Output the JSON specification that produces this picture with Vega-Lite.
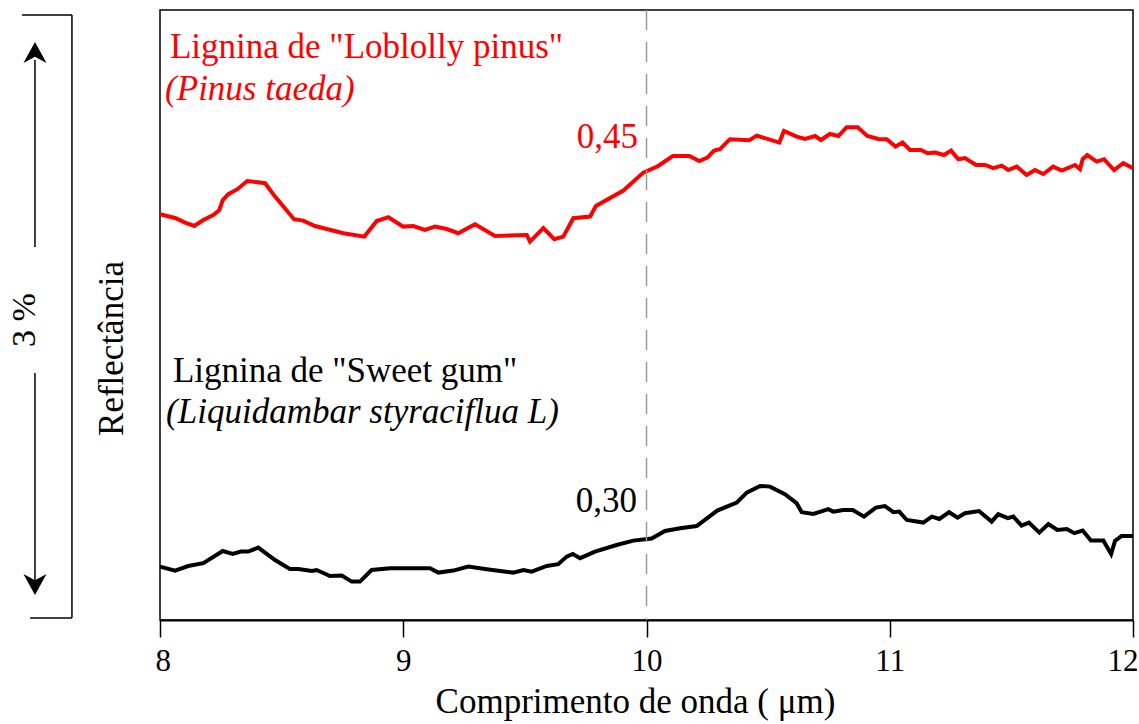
{
  "$schema": "https://vega.github.io/schema/vega-lite/v6.json",
  "width": 973,
  "height": 610,
  "autosize": {"type": "none"},
  "padding": {"left": 160, "top": 10, "right": 6, "bottom": 104},
  "background": "white",
  "config": {
    "view": {"stroke": "black", "strokeWidth": 1.5},
    "font": "Liberation Serif",
    "text": {"font": "Liberation Serif"},
    "axis": {
      "labelFont": "Liberation Serif",
      "titleFont": "Liberation Serif",
      "labelColor": "black",
      "titleColor": "black",
      "titleFontWeight": "normal",
      "grid": false
    }
  },
  "datasets": {
    "curves": [
      {"s": "Loblolly", "x": 8.000, "y": 2.029},
      {"s": "Loblolly", "x": 8.062, "y": 2.010},
      {"s": "Loblolly", "x": 8.103, "y": 1.987},
      {"s": "Loblolly", "x": 8.141, "y": 1.970},
      {"s": "Loblolly", "x": 8.178, "y": 2.000},
      {"s": "Loblolly", "x": 8.219, "y": 2.025},
      {"s": "Loblolly", "x": 8.244, "y": 2.050},
      {"s": "Loblolly", "x": 8.258, "y": 2.100},
      {"s": "Loblolly", "x": 8.281, "y": 2.129},
      {"s": "Loblolly", "x": 8.318, "y": 2.154},
      {"s": "Loblolly", "x": 8.359, "y": 2.195},
      {"s": "Loblolly", "x": 8.432, "y": 2.184},
      {"s": "Loblolly", "x": 8.473, "y": 2.117},
      {"s": "Loblolly", "x": 8.551, "y": 2.004},
      {"s": "Loblolly", "x": 8.589, "y": 1.997},
      {"s": "Loblolly", "x": 8.637, "y": 1.970},
      {"s": "Loblolly", "x": 8.754, "y": 1.934},
      {"s": "Loblolly", "x": 8.840, "y": 1.917},
      {"s": "Loblolly", "x": 8.891, "y": 1.995},
      {"s": "Loblolly", "x": 8.939, "y": 2.014},
      {"s": "Loblolly", "x": 9.000, "y": 1.967},
      {"s": "Loblolly", "x": 9.041, "y": 1.970},
      {"s": "Loblolly", "x": 9.089, "y": 1.950},
      {"s": "Loblolly", "x": 9.131, "y": 1.967},
      {"s": "Loblolly", "x": 9.179, "y": 1.955},
      {"s": "Loblolly", "x": 9.226, "y": 1.934},
      {"s": "Loblolly", "x": 9.295, "y": 1.979},
      {"s": "Loblolly", "x": 9.377, "y": 1.920},
      {"s": "Loblolly", "x": 9.508, "y": 1.925},
      {"s": "Loblolly", "x": 9.521, "y": 1.892},
      {"s": "Loblolly", "x": 9.576, "y": 1.959},
      {"s": "Loblolly", "x": 9.621, "y": 1.904},
      {"s": "Loblolly", "x": 9.658, "y": 1.917},
      {"s": "Loblolly", "x": 9.699, "y": 2.009},
      {"s": "Loblolly", "x": 9.768, "y": 2.017},
      {"s": "Loblolly", "x": 9.792, "y": 2.070},
      {"s": "Loblolly", "x": 9.905, "y": 2.147},
      {"s": "Loblolly", "x": 9.987, "y": 2.237},
      {"s": "Loblolly", "x": 10.048, "y": 2.270},
      {"s": "Loblolly", "x": 10.108, "y": 2.320},
      {"s": "Loblolly", "x": 10.176, "y": 2.320},
      {"s": "Loblolly", "x": 10.217, "y": 2.295},
      {"s": "Loblolly", "x": 10.250, "y": 2.312},
      {"s": "Loblolly", "x": 10.278, "y": 2.347},
      {"s": "Loblolly", "x": 10.302, "y": 2.354},
      {"s": "Loblolly", "x": 10.343, "y": 2.404},
      {"s": "Loblolly", "x": 10.423, "y": 2.399},
      {"s": "Loblolly", "x": 10.453, "y": 2.422},
      {"s": "Loblolly", "x": 10.546, "y": 2.387},
      {"s": "Loblolly", "x": 10.565, "y": 2.445},
      {"s": "Loblolly", "x": 10.617, "y": 2.417},
      {"s": "Loblolly", "x": 10.652, "y": 2.405},
      {"s": "Loblolly", "x": 10.693, "y": 2.420},
      {"s": "Loblolly", "x": 10.717, "y": 2.400},
      {"s": "Loblolly", "x": 10.754, "y": 2.430},
      {"s": "Loblolly", "x": 10.789, "y": 2.420},
      {"s": "Loblolly", "x": 10.823, "y": 2.464},
      {"s": "Loblolly", "x": 10.868, "y": 2.464},
      {"s": "Loblolly", "x": 10.908, "y": 2.420},
      {"s": "Loblolly", "x": 10.953, "y": 2.405},
      {"s": "Loblolly", "x": 10.987, "y": 2.404},
      {"s": "Loblolly", "x": 11.024, "y": 2.367},
      {"s": "Loblolly", "x": 11.053, "y": 2.387},
      {"s": "Loblolly", "x": 11.083, "y": 2.350},
      {"s": "Loblolly", "x": 11.128, "y": 2.350},
      {"s": "Loblolly", "x": 11.156, "y": 2.334},
      {"s": "Loblolly", "x": 11.186, "y": 2.337},
      {"s": "Loblolly", "x": 11.223, "y": 2.325},
      {"s": "Loblolly", "x": 11.252, "y": 2.347},
      {"s": "Loblolly", "x": 11.282, "y": 2.304},
      {"s": "Loblolly", "x": 11.309, "y": 2.310},
      {"s": "Loblolly", "x": 11.355, "y": 2.275},
      {"s": "Loblolly", "x": 11.392, "y": 2.275},
      {"s": "Loblolly", "x": 11.426, "y": 2.259},
      {"s": "Loblolly", "x": 11.460, "y": 2.272},
      {"s": "Loblolly", "x": 11.487, "y": 2.250},
      {"s": "Loblolly", "x": 11.522, "y": 2.267},
      {"s": "Loblolly", "x": 11.563, "y": 2.225},
      {"s": "Loblolly", "x": 11.597, "y": 2.250},
      {"s": "Loblolly", "x": 11.631, "y": 2.230},
      {"s": "Loblolly", "x": 11.672, "y": 2.267},
      {"s": "Loblolly", "x": 11.707, "y": 2.247},
      {"s": "Loblolly", "x": 11.762, "y": 2.275},
      {"s": "Loblolly", "x": 11.782, "y": 2.254},
      {"s": "Loblolly", "x": 11.793, "y": 2.304},
      {"s": "Loblolly", "x": 11.812, "y": 2.325},
      {"s": "Loblolly", "x": 11.851, "y": 2.292},
      {"s": "Loblolly", "x": 11.881, "y": 2.304},
      {"s": "Loblolly", "x": 11.922, "y": 2.250},
      {"s": "Loblolly", "x": 11.960, "y": 2.284},
      {"s": "Loblolly", "x": 12.000, "y": 2.259},
      {"s": "Sweet gum", "x": 8.000, "y": 0.267},
      {"s": "Sweet gum", "x": 8.062, "y": 0.247},
      {"s": "Sweet gum", "x": 8.116, "y": 0.270},
      {"s": "Sweet gum", "x": 8.178, "y": 0.284},
      {"s": "Sweet gum", "x": 8.258, "y": 0.345},
      {"s": "Sweet gum", "x": 8.299, "y": 0.330},
      {"s": "Sweet gum", "x": 8.332, "y": 0.342},
      {"s": "Sweet gum", "x": 8.363, "y": 0.342},
      {"s": "Sweet gum", "x": 8.404, "y": 0.362},
      {"s": "Sweet gum", "x": 8.473, "y": 0.300},
      {"s": "Sweet gum", "x": 8.534, "y": 0.255},
      {"s": "Sweet gum", "x": 8.569, "y": 0.255},
      {"s": "Sweet gum", "x": 8.624, "y": 0.245},
      {"s": "Sweet gum", "x": 8.644, "y": 0.250},
      {"s": "Sweet gum", "x": 8.699, "y": 0.220},
      {"s": "Sweet gum", "x": 8.747, "y": 0.222},
      {"s": "Sweet gum", "x": 8.788, "y": 0.192},
      {"s": "Sweet gum", "x": 8.822, "y": 0.192},
      {"s": "Sweet gum", "x": 8.870, "y": 0.250},
      {"s": "Sweet gum", "x": 8.946, "y": 0.259},
      {"s": "Sweet gum", "x": 9.110, "y": 0.259},
      {"s": "Sweet gum", "x": 9.144, "y": 0.237},
      {"s": "Sweet gum", "x": 9.206, "y": 0.247},
      {"s": "Sweet gum", "x": 9.267, "y": 0.267},
      {"s": "Sweet gum", "x": 9.343, "y": 0.254},
      {"s": "Sweet gum", "x": 9.452, "y": 0.237},
      {"s": "Sweet gum", "x": 9.494, "y": 0.250},
      {"s": "Sweet gum", "x": 9.528, "y": 0.242},
      {"s": "Sweet gum", "x": 9.590, "y": 0.270},
      {"s": "Sweet gum", "x": 9.637, "y": 0.279},
      {"s": "Sweet gum", "x": 9.672, "y": 0.317},
      {"s": "Sweet gum", "x": 9.697, "y": 0.330},
      {"s": "Sweet gum", "x": 9.727, "y": 0.309},
      {"s": "Sweet gum", "x": 9.788, "y": 0.342},
      {"s": "Sweet gum", "x": 9.877, "y": 0.375},
      {"s": "Sweet gum", "x": 9.946, "y": 0.397},
      {"s": "Sweet gum", "x": 10.021, "y": 0.407},
      {"s": "Sweet gum", "x": 10.076, "y": 0.445},
      {"s": "Sweet gum", "x": 10.138, "y": 0.459},
      {"s": "Sweet gum", "x": 10.206, "y": 0.470},
      {"s": "Sweet gum", "x": 10.291, "y": 0.547},
      {"s": "Sweet gum", "x": 10.371, "y": 0.587},
      {"s": "Sweet gum", "x": 10.412, "y": 0.637},
      {"s": "Sweet gum", "x": 10.467, "y": 0.670},
      {"s": "Sweet gum", "x": 10.508, "y": 0.667},
      {"s": "Sweet gum", "x": 10.569, "y": 0.629},
      {"s": "Sweet gum", "x": 10.617, "y": 0.584},
      {"s": "Sweet gum", "x": 10.638, "y": 0.539},
      {"s": "Sweet gum", "x": 10.686, "y": 0.530},
      {"s": "Sweet gum", "x": 10.747, "y": 0.554},
      {"s": "Sweet gum", "x": 10.768, "y": 0.542},
      {"s": "Sweet gum", "x": 10.809, "y": 0.550},
      {"s": "Sweet gum", "x": 10.848, "y": 0.550},
      {"s": "Sweet gum", "x": 10.894, "y": 0.517},
      {"s": "Sweet gum", "x": 10.943, "y": 0.562},
      {"s": "Sweet gum", "x": 10.980, "y": 0.570},
      {"s": "Sweet gum", "x": 11.015, "y": 0.539},
      {"s": "Sweet gum", "x": 11.039, "y": 0.542},
      {"s": "Sweet gum", "x": 11.070, "y": 0.500},
      {"s": "Sweet gum", "x": 11.138, "y": 0.487},
      {"s": "Sweet gum", "x": 11.173, "y": 0.517},
      {"s": "Sweet gum", "x": 11.204, "y": 0.505},
      {"s": "Sweet gum", "x": 11.244, "y": 0.539},
      {"s": "Sweet gum", "x": 11.279, "y": 0.512},
      {"s": "Sweet gum", "x": 11.309, "y": 0.534},
      {"s": "Sweet gum", "x": 11.367, "y": 0.545},
      {"s": "Sweet gum", "x": 11.419, "y": 0.492},
      {"s": "Sweet gum", "x": 11.446, "y": 0.529},
      {"s": "Sweet gum", "x": 11.485, "y": 0.509},
      {"s": "Sweet gum", "x": 11.508, "y": 0.517},
      {"s": "Sweet gum", "x": 11.542, "y": 0.472},
      {"s": "Sweet gum", "x": 11.572, "y": 0.487},
      {"s": "Sweet gum", "x": 11.615, "y": 0.437},
      {"s": "Sweet gum", "x": 11.652, "y": 0.480},
      {"s": "Sweet gum", "x": 11.689, "y": 0.450},
      {"s": "Sweet gum", "x": 11.728, "y": 0.455},
      {"s": "Sweet gum", "x": 11.759, "y": 0.434},
      {"s": "Sweet gum", "x": 11.793, "y": 0.447},
      {"s": "Sweet gum", "x": 11.827, "y": 0.397},
      {"s": "Sweet gum", "x": 11.878, "y": 0.397},
      {"s": "Sweet gum", "x": 11.910, "y": 0.330},
      {"s": "Sweet gum", "x": 11.926, "y": 0.395},
      {"s": "Sweet gum", "x": 11.953, "y": 0.420},
      {"s": "Sweet gum", "x": 12.000, "y": 0.420}
    ],
    "bracket": [
      {"x": 7.433, "y": 3.025, "x2": 7.638, "y2": 3.025},
      {"x": 7.638, "y": 3.025, "x2": 7.638, "y2": 0.010},
      {"x": 7.466, "y": 0.010, "x2": 7.638, "y2": 0.010},
      {"x": 7.486, "y": 2.800, "x2": 7.486, "y2": 1.865},
      {"x": 7.486, "y": 1.235, "x2": 7.486, "y2": 0.200}
    ],
    "heads": [
      {"x": 7.486, "y": 2.785, "dir": "up"},
      {"x": 7.486, "y": 0.230, "dir": "down"}
    ]
  },
  "layer": [
    {
      "data": {"name": "curves"},
      "mark": {"type": "line", "strokeWidth": 4},
      "encoding": {
        "x": {
          "field": "x", "type": "quantitative",
          "scale": {"domain": [8, 12], "nice": false, "zero": false},
          "axis": {
            "title": "Comprimento de onda ( μm)",
            "values": [8, 9, 10, 11, 12],
            "format": "d",
            "grid": false,
            "tickSize": 17, "tickWidth": 1.5, "tickColor": "black",
            "domainColor": "black", "domainWidth": 2,
            "labelFont": "Liberation Serif", "labelFontSize": 31, "labelColor": "black",
            "labelPadding": 9, "labelFlush": true, "labelFlushOffset": 5, "labelOverlap": false,
            "titleFont": "Liberation Serif", "titleFontSize": 35, "titleFontWeight": "normal",
            "titleColor": "black", "titleX": 475, "titleY": 92,
            "titleAlign": "center", "titleBaseline": "alphabetic"
          }
        },
        "y": {
          "field": "y", "type": "quantitative",
          "scale": {"domain": [0, 3.05], "nice": false, "zero": false},
          "axis": {
            "title": "Reflectância",
            "ticks": false, "labels": false, "domain": false, "grid": false,
            "titleFont": "Liberation Serif", "titleFontSize": 35, "titleFontWeight": "normal",
            "titleColor": "black", "titleX": -38, "titleY": 338,
            "titleAngle": 270, "titleAlign": "center", "titleBaseline": "alphabetic"
          }
        },
        "color": {
          "field": "s", "type": "nominal",
          "scale": {"domain": ["Loblolly", "Sweet gum"], "range": ["#ff0000", "#000000"]},
          "legend": null
        }
      }
    },
    {
      "data": {"values": [{"x": 10}]},
      "mark": {"type": "rule", "color": "#9a9a9a", "strokeDash": [20, 12], "strokeWidth": 1.5},
      "encoding": {"x": {"field": "x", "type": "quantitative"}}
    },
    {
      "data": {"name": "bracket"},
      "mark": {"type": "rule", "color": "black", "strokeWidth": 1.5},
      "encoding": {
        "x": {"field": "x", "type": "quantitative"},
        "x2": {"field": "x2"},
        "y": {"field": "y", "type": "quantitative"},
        "y2": {"field": "y2"}
      }
    },
    {
      "data": {"name": "heads"},
      "transform": [{"filter": "datum.dir === 'up'"}],
      "mark": {"type": "point", "filled": true, "color": "black", "opacity": 1, "size": 1764, "shape": "M0,-1L0.55,0L0,-0.3L-0.55,0Z"},
      "encoding": {
        "x": {"field": "x", "type": "quantitative"},
        "y": {"field": "y", "type": "quantitative"}
      }
    },
    {
      "data": {"name": "heads"},
      "transform": [{"filter": "datum.dir === 'down'"}],
      "mark": {"type": "point", "filled": true, "color": "black", "opacity": 1, "size": 1764, "shape": "M0,1L0.55,0L0,0.3L-0.55,0Z"},
      "encoding": {
        "x": {"field": "x", "type": "quantitative"},
        "y": {"field": "y", "type": "quantitative"}
      }
    },
    {
      "data": {"values": [{"x": 7.486, "y": 1.5, "label": "3 %"}]},
      "mark": {"type": "text", "angle": 270, "align": "center", "baseline": "alphabetic", "fontSize": 34, "color": "black", "font": "Liberation Serif"},
      "encoding": {
        "x": {"field": "x", "type": "quantitative"},
        "y": {"field": "y", "type": "quantitative"},
        "text": {"field": "label"}
      }
    },
    {
      "data": {"values": [{"x": 8.041, "y": 2.81, "label": "Lignina de \"Loblolly pinus\""}]},
      "mark": {"type": "text", "align": "left", "baseline": "alphabetic", "fontSize": 35, "color": "#ff0000", "font": "Liberation Serif"},
      "encoding": {
        "x": {"field": "x", "type": "quantitative"},
        "y": {"field": "y", "type": "quantitative"},
        "text": {"field": "label"}
      }
    },
    {
      "data": {"values": [{"x": 8.021, "y": 2.60, "label": "(Pinus taeda)"}]},
      "mark": {"type": "text", "align": "left", "baseline": "alphabetic", "fontSize": 35, "fontStyle": "italic", "color": "#ff0000", "font": "Liberation Serif"},
      "encoding": {
        "x": {"field": "x", "type": "quantitative"},
        "y": {"field": "y", "type": "quantitative"},
        "text": {"field": "label"}
      }
    },
    {
      "data": {"values": [{"x": 9.965, "y": 2.36, "label": "0,45"}]},
      "mark": {"type": "text", "align": "right", "baseline": "alphabetic", "fontSize": 35, "color": "#ff0000", "font": "Liberation Serif"},
      "encoding": {
        "x": {"field": "x", "type": "quantitative"},
        "y": {"field": "y", "type": "quantitative"},
        "text": {"field": "label"}
      }
    },
    {
      "data": {"values": [{"x": 8.053, "y": 1.19, "label": "Lignina de \"Sweet gum\""}]},
      "mark": {"type": "text", "align": "left", "baseline": "alphabetic", "fontSize": 35, "color": "black", "font": "Liberation Serif"},
      "encoding": {
        "x": {"field": "x", "type": "quantitative"},
        "y": {"field": "y", "type": "quantitative"},
        "text": {"field": "label"}
      }
    },
    {
      "data": {"values": [{"x": 8.025, "y": 0.985, "label": "(Liquidambar styraciflua L)"}]},
      "mark": {"type": "text", "align": "left", "baseline": "alphabetic", "fontSize": 35, "fontStyle": "italic", "color": "black", "font": "Liberation Serif"},
      "encoding": {
        "x": {"field": "x", "type": "quantitative"},
        "y": {"field": "y", "type": "quantitative"},
        "text": {"field": "label"}
      }
    },
    {
      "data": {"values": [{"x": 9.961, "y": 0.54, "label": "0,30"}]},
      "mark": {"type": "text", "align": "right", "baseline": "alphabetic", "fontSize": 35, "color": "black", "font": "Liberation Serif"},
      "encoding": {
        "x": {"field": "x", "type": "quantitative"},
        "y": {"field": "y", "type": "quantitative"},
        "text": {"field": "label"}
      }
    }
  ]
}
